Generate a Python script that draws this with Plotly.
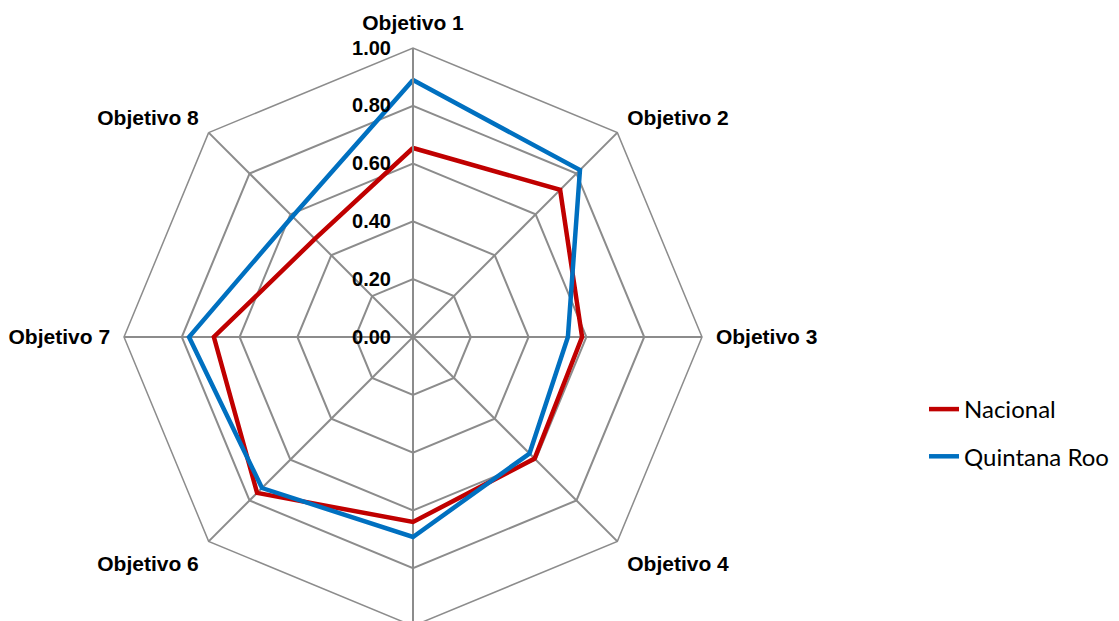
import plotly.graph_objects as go

categories = ["Objetivo 1", "Objetivo 2", "Objetivo 3", "Objetivo 4",
              "Objetivo 5", "Objetivo 6", "Objetivo 7", "Objetivo 8"]
nacional = [0.654, 0.72, 0.585, 0.595, 0.64, 0.763, 0.689, 0.48]
quintana_roo = [0.889, 0.817, 0.536, 0.57, 0.692, 0.739, 0.775, 0.59]
radial_ticks = [0, 0.2, 0.4, 0.6, 0.8, 1.0]

fig = go.Figure()
for name, vals, color in [("Nacional", nacional, "#C00000"),
                          ("Quintana Roo", quintana_roo, "#0070C0")]:
    fig.add_trace(go.Scatterpolar(
        r=vals + vals[:1], theta=categories + categories[:1],
        mode="lines", name=name, legendgroup=name,
        line=dict(color=color, width=4.5),
    ))

grid = "#8c8c8c"
fig.update_layout(
    width=1119, height=621,
    margin=dict(l=0, r=0, t=40, b=3),
    paper_bgcolor="white",
    showlegend=True,
    polar=dict(
        domain=dict(x=[0, 810 / 1119], y=[0, 1]),
        gridshape="linear",
        bgcolor="white",
        radialaxis=dict(
            range=[0, 1], tickvals=radial_ticks,
            ticktext=[f"{v:.2f}" for v in radial_ticks],
            angle=90, tickangle=90, side="counterclockwise",
            showline=True, linecolor=grid, linewidth=2,
            gridcolor=grid, gridwidth=1.5,
            ticks="outside", ticklen=14, tickcolor="rgba(0,0,0,0)",
            tickfont=dict(family="Liberation Sans, Arial", size=20, color="black", weight="bold"),
        ),
        angularaxis=dict(
            direction="clockwise", rotation=90,
            showline=True, linecolor=grid, linewidth=1.5,
            gridcolor=grid, gridwidth=1.5,
            ticks="outside", ticklen=9, tickcolor="rgba(0,0,0,0)",
            tickfont=dict(family="Liberation Sans, Arial", size=21, color="black", weight="bold"),
        ),
    ),
    legend=dict(
        x=0.8186, y=0.4135, xanchor="left", yanchor="top",
        font=dict(family="Lato, Open Sans", size=24, color="black"),
        tracegroupgap=13, bgcolor="rgba(0,0,0,0)",
    ),
)

fig.write_html("out.html")
